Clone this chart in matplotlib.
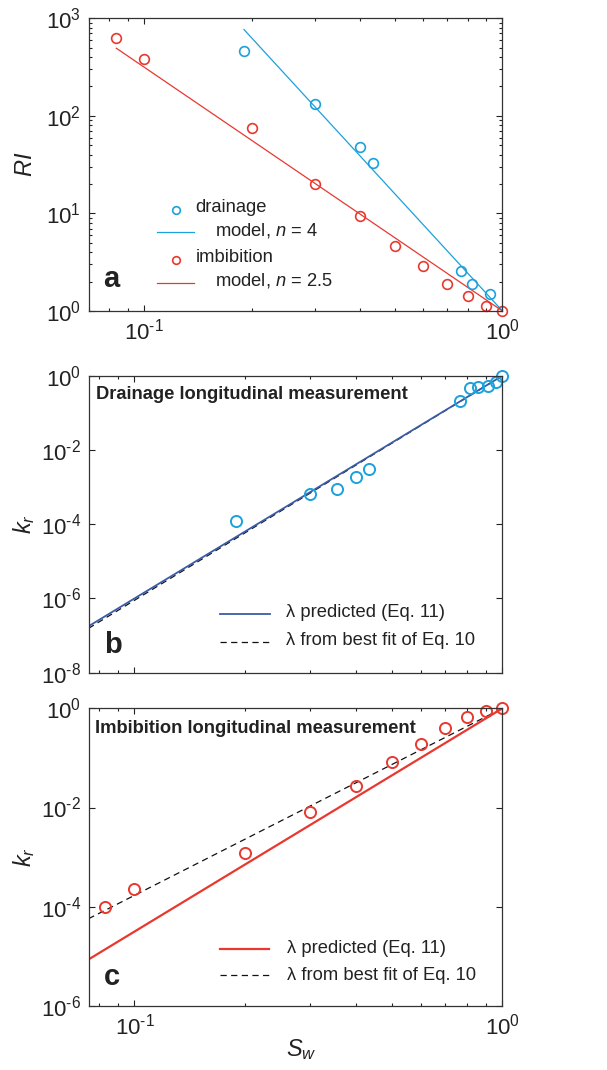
import matplotlib
matplotlib.use('Agg')
import matplotlib.pyplot as plt
import numpy as np
from matplotlib.ticker import NullFormatter, NullLocator, LogLocator

plt.rcParams['font.family'] = ['Liberation Sans', 'DejaVu Sans']
plt.rcParams['mathtext.fontset'] = 'custom'
plt.rcParams['mathtext.rm'] = 'Liberation Sans'
plt.rcParams['mathtext.it'] = 'Liberation Sans:italic'
plt.rcParams['mathtext.bf'] = 'Liberation Sans:bold'

# Resistivity index vs water saturation
sw_drain_ri = [0.19, 0.30, 0.40, 0.435, 0.767, 0.82, 0.922]
ri_drain = [466, 133, 48.3, 32.6, 2.59, 1.88, 1.49]
sw_imb_ri = [0.0837, 0.1, 0.2, 0.3, 0.4, 0.5, 0.6, 0.7, 0.8, 0.9, 1.0]
ri_imb = [623, 380, 75.7, 20.0, 9.4, 4.67, 2.91, 1.89, 1.43, 1.13, 1.0]
n_drain = 4
n_imb = 2.5

# Relative permeability, longitudinal measurements
sw_drain_kr = [0.189, 0.30, 0.355, 0.40, 0.435, 0.767, 0.814, 0.86, 0.915, 0.958, 1.0]
kr_drain = [1.21e-4, 6.45e-4, 8.8e-4, 1.85e-3, 3.16e-3, 0.208, 0.457, 0.506, 0.527, 0.69, 1.0]
sw_imb_kr = [0.0834, 0.1, 0.2, 0.3, 0.4, 0.5, 0.6, 0.7, 0.8, 0.9, 1.0]
kr_imb = [1.0e-4, 2.28e-4, 1.23e-3, 8.1e-3, 0.0268, 0.084, 0.194, 0.40, 0.68, 0.90, 1.0]

# kr = Sw^e exponents (predicted lambda / best fit lambda)
e_drain_pred = 6.0
e_drain_fit = 6.05
e_imb_pred = 4.5
e_imb_fit = 3.77

BLUE = '#1ba1dc'
RED = '#e8382f'
NAVY = '#3a5ca8'
INK = '#222222'
FS_TICK = 16
FS_TEXT = 13.2
FS_LABEL = 17
FS_PANEL = 21

fig = plt.figure(figsize=(6.07, 10.70), dpi=100)
ax_a = fig.add_axes([0.1458, 0.70935, 0.682, 0.27355])
ax_b = fig.add_axes([0.1458, 0.37131, 0.682, 0.27757])
ax_c = fig.add_axes([0.1458, 0.05981, 0.682, 0.27822])


def exp_labels(exps):
    # short hyphen in the exponent, like the usual 10^-1 style
    out = []
    for e in exps:
        if e < 0:
            out.append(r'$10^{\text{-}%d}$' % -e)
        else:
            out.append(r'$10^{%d}$' % e)
    return out


def style_axes(ax, xlim, ylim, ydecades, yminor):
    ax.set_xscale('log')
    ax.set_yscale('log')
    ax.set_xlim(*xlim)
    ax.set_ylim(*ylim)
    ax.set_xticks([0.1, 1.0])
    ax.xaxis.set_minor_locator(LogLocator(subs=np.arange(2, 10)))
    ax.xaxis.set_minor_formatter(NullFormatter())
    ax.set_yticks([10.0 ** e for e in ydecades])
    ax.set_yticklabels(exp_labels(ydecades))
    if yminor:
        ax.yaxis.set_minor_locator(LogLocator(subs=np.arange(2, 10)))
    else:
        ax.yaxis.set_minor_locator(NullLocator())
    ax.yaxis.set_minor_formatter(NullFormatter())
    ax.tick_params(which='both', direction='in', top=True, right=True,
                   color=INK, labelcolor=INK, labelsize=FS_TICK, width=0.8)
    ax.tick_params(which='major', length=4, pad=5.5)
    ax.tick_params(which='minor', length=2.2)
    for s in ax.spines.values():
        s.set_color('#333333')
        s.set_linewidth(0.9)


# ---- panel a: RI ----
style_axes(ax_a, (0.07, 1.0), (1, 1000), [0, 1, 2, 3], True)
ax_a.set_xticklabels(exp_labels([-1, 0]))

sw_d = np.array([sw_drain_ri[0], 1.0])
sw_i = np.array([sw_imb_ri[0], 1.0])
ax_a.plot(sw_d, sw_d ** -n_drain, color=BLUE, lw=0.9)
ax_a.plot(sw_i, sw_i ** -n_imb, color=RED, lw=0.9)
ax_a.plot(sw_drain_ri, ri_drain, 'o', mfc='none', mec=BLUE, ms=7, mew=1.2)
ax_a.plot(sw_imb_ri, ri_imb, 'o', mfc='none', mec=RED, ms=7, mew=1.2, clip_on=False)

tr = ax_a.transAxes
ax_a.plot([0.2116], [0.3451], 'o', mfc='none', mec=BLUE, ms=5.5, mew=1.2, transform=tr)
ax_a.plot([0.1658, 0.2559], [0.2689, 0.2689], color=BLUE, lw=0.9, transform=tr)
ax_a.plot([0.2116], [0.1742], 'o', mfc='none', mec=RED, ms=5.5, mew=1.2, transform=tr)
ax_a.plot([0.1658, 0.2559], [0.0967, 0.0967], color=RED, lw=0.9, transform=tr)
ax_a.text(0.2584, 0.3519, 'drainage', transform=tr, fontsize=FS_TEXT, va='center', color=INK)
ax_a.text(0.3066, 0.2767, 'model, $n$ = 4', transform=tr, fontsize=FS_TEXT, va='center', color=INK)
ax_a.text(0.2584, 0.1811, 'imbibition', transform=tr, fontsize=FS_TEXT, va='center', color=INK)
ax_a.text(0.3066, 0.1025, 'model, $n$ = 2.5', transform=tr, fontsize=FS_TEXT, va='center', color=INK)
ax_a.text(0.055, 0.109, 'a', transform=tr, fontsize=FS_PANEL, fontweight='bold',
          ha='center', va='center', color=INK)
ax_a.set_ylabel('$RI$', fontsize=FS_LABEL, color=INK)
ax_a.yaxis.set_label_coords(-0.125, 0.5)

# ---- panel b: drainage kr ----
style_axes(ax_b, (0.075, 1.0), (1e-8, 1), [-8, -6, -4, -2, 0], False)
ax_b.xaxis.set_major_formatter(NullFormatter())
sw_line = np.array(ax_b.get_xlim())
ax_b.plot(sw_line, sw_line ** e_drain_fit, color='#111111', lw=0.9, dashes=(5, 3.5))
ax_b.plot(sw_line, sw_line ** e_drain_pred, color=NAVY, lw=1.3)
ax_b.plot(sw_drain_kr, kr_drain, 'o', mfc='none', mec=BLUE, ms=8, mew=1.4, clip_on=False)

tr = ax_b.transAxes
ax_b.plot([0.3177, 0.4384], [0.1976, 0.1976], color=NAVY, lw=1.3, transform=tr)
ax_b.plot([0.3177, 0.4384], [0.1034, 0.1034], color='#111111', lw=0.9,
          dashes=(5, 3.5), transform=tr)
ax_b.text(0.4778, 0.2030, 'λ predicted (Eq. 11)', transform=tr, fontsize=FS_TEXT,
          va='center', color=INK)
ax_b.text(0.4778, 0.110, 'λ from best fit of Eq. 10', transform=tr, fontsize=FS_TEXT,
          va='center', color=INK)
ax_b.text(0.0185, 0.938, 'Drainage longitudinal measurement', transform=tr, fontsize=FS_TEXT,
          fontweight='bold', va='center', color=INK)
ax_b.text(0.0587, 0.0933, 'b', transform=tr, fontsize=FS_PANEL, fontweight='bold',
          ha='center', va='center', color=INK)
ax_b.set_ylabel('$k_r$', fontsize=FS_LABEL, color=INK)
ax_b.yaxis.set_label_coords(-0.125, 0.5)

# ---- panel c: imbibition kr ----
style_axes(ax_c, (0.075, 1.0), (1e-6, 1), [-6, -4, -2, 0], False)
ax_c.set_xticklabels(exp_labels([-1, 0]))
sw_line = np.array(ax_c.get_xlim())
ax_c.plot(sw_line, sw_line ** e_imb_fit, color='#111111', lw=0.9, dashes=(5, 3.5))
ax_c.plot(sw_line, sw_line ** e_imb_pred, color=RED, lw=1.6)
ax_c.plot(sw_imb_kr, kr_imb, 'o', mfc='none', mec=RED, ms=8, mew=1.4, clip_on=False)

tr = ax_c.transAxes
ax_c.plot([0.3166, 0.4369], [0.1915, 0.1915], color=RED, lw=1.6, transform=tr)
ax_c.plot([0.3166, 0.4369], [0.1041, 0.1041], color='#111111', lw=0.9,
          dashes=(5, 3.5), transform=tr)
ax_c.text(0.4789, 0.1915, 'λ predicted (Eq. 11)', transform=tr, fontsize=FS_TEXT,
          va='center', color=INK)
ax_c.text(0.4789, 0.104, 'λ from best fit of Eq. 10', transform=tr, fontsize=FS_TEXT,
          va='center', color=INK)
ax_c.text(0.0146, 0.9305, 'Imbibition longitudinal measurement', transform=tr, fontsize=FS_TEXT,
          fontweight='bold', va='center', color=INK)
ax_c.text(0.0572, 0.0964, 'c', transform=tr, fontsize=FS_PANEL, fontweight='bold',
          ha='center', va='center', color=INK)
ax_c.set_ylabel('$k_r$', fontsize=FS_LABEL, color=INK)
ax_c.yaxis.set_label_coords(-0.125, 0.5)
ax_c.set_xlabel('$S_w$', fontsize=FS_LABEL, color=INK)
ax_c.xaxis.set_label_coords(0.5145, -0.104)

fig.savefig('out.png', dpi=100)
plt.close(fig)
